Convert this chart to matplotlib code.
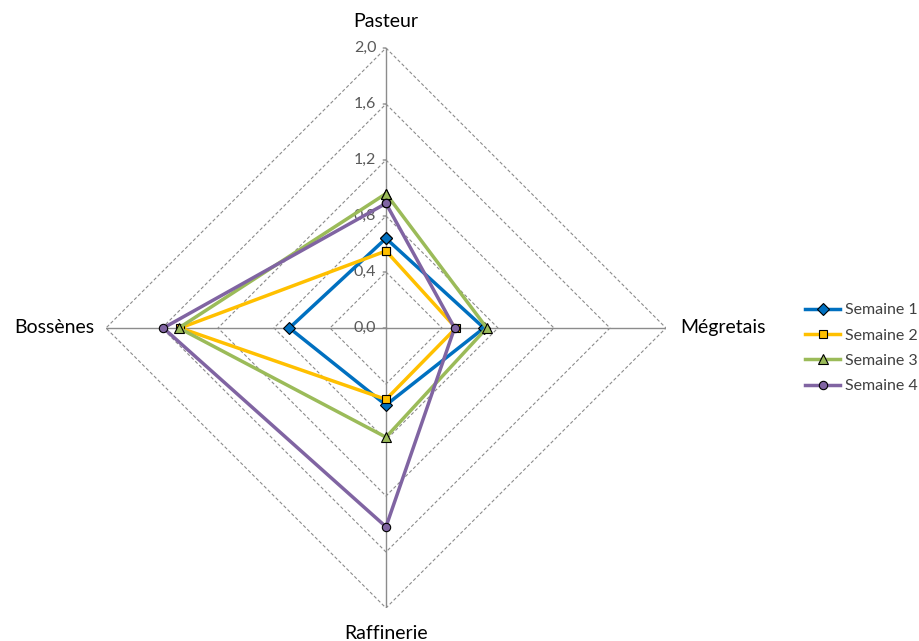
import numpy as np
import matplotlib.pyplot as plt

categories = ['Pasteur', 'Mégretais', 'Raffinerie', 'Bossènes']
semaine1 = [0.64, 0.70, 0.55, 0.69]
semaine2 = [0.55, 0.50, 0.51, 1.47]
semaine3 = [0.96, 0.72, 0.78, 1.48]
semaine4 = [0.89, 0.49, 1.42, 1.59]
series_names = ['Semaine 1', 'Semaine 2', 'Semaine 3', 'Semaine 4']
r_ticks = [0.0, 0.4, 0.8, 1.2, 1.6, 2.0]
r_tick_labels = ['0,0', '0,4', '0,8', '1,2', '1,6', '2,0']

colors = ['#0070C0', '#FFC000', '#9BBB59', '#8064A2']
markers = ['D', 's', '^', 'o']
msizes = [6, 6, 7, 6]

plt.rcParams['font.family'] = ['Lato', 'DejaVu Sans']

fig = plt.figure(figsize=(9.2, 6.41), dpi=100)
ax = fig.add_axes([0.1152, 0.0515, 0.6087, 0.8736], projection='polar')
ax.set_theta_zero_location('N')
ax.set_theta_direction(-1)
ax.set_ylim(0, 2.0)
ax.set_xticks([])
ax.set_yticks([])
ax.grid(False)
ax.spines['polar'].set_visible(False)

angles = np.linspace(0, 2 * np.pi, len(categories), endpoint=False)
closed = np.append(angles, angles[0])

# diamond grid
for r in r_ticks[1:]:
    ax.plot(closed, [r] * len(closed), color='#8c8c8c', lw=0.8,
            ls=(0, (3, 2)), zorder=1)
# spokes
for a in angles:
    ax.plot([a, a], [0, 2.0], color='#8c8c8c', lw=1.0, zorder=1)
# small ticks on the vertical axis
for r in r_ticks:
    ax.annotate('', xy=(0, r), xytext=(-4, 0), textcoords='offset points',
                arrowprops=dict(arrowstyle='-', color='#8c8c8c', lw=1.0),
                zorder=1)

# radial labels
for r, lab in zip(r_ticks, r_tick_labels):
    ax.annotate(lab, xy=(0, r), xytext=(-7, 0), textcoords='offset points',
                ha='right', va='center', fontsize=11.5, color='#595959',
                zorder=2, annotation_clip=False)

# category labels
offsets = [(0, 19.4), (10, 0), (0, -18.7), (-8.6, 0)]
aligns = [('center', 'center'), ('left', 'center'),
          ('center', 'center'), ('right', 'center')]
for a, cat, off, (ha, va) in zip(angles, categories, offsets, aligns):
    ax.annotate(cat, xy=(a, 2.0), xytext=off, textcoords='offset points',
                ha=ha, va=va, fontsize=14, color='black',
                annotation_clip=False)

all_series = [semaine1, semaine2, semaine3, semaine4]
for vals, name, c, m, ms in zip(all_series, series_names, colors, markers, msizes):
    v = np.append(vals, vals[0])
    ax.plot(closed, v, color=c, lw=2.5, marker=m, markersize=ms,
            markerfacecolor=c, markeredgecolor='black', markeredgewidth=0.8,
            label=name, zorder=3, clip_on=False)

fig.legend(loc='upper left', bbox_to_anchor=(0.868, 0.537), frameon=False,
           fontsize=11.5, handlelength=2.2, handletextpad=0.3,
           labelspacing=0.7, labelcolor='#404040', borderaxespad=0)

fig.savefig('out.png', dpi=100)
